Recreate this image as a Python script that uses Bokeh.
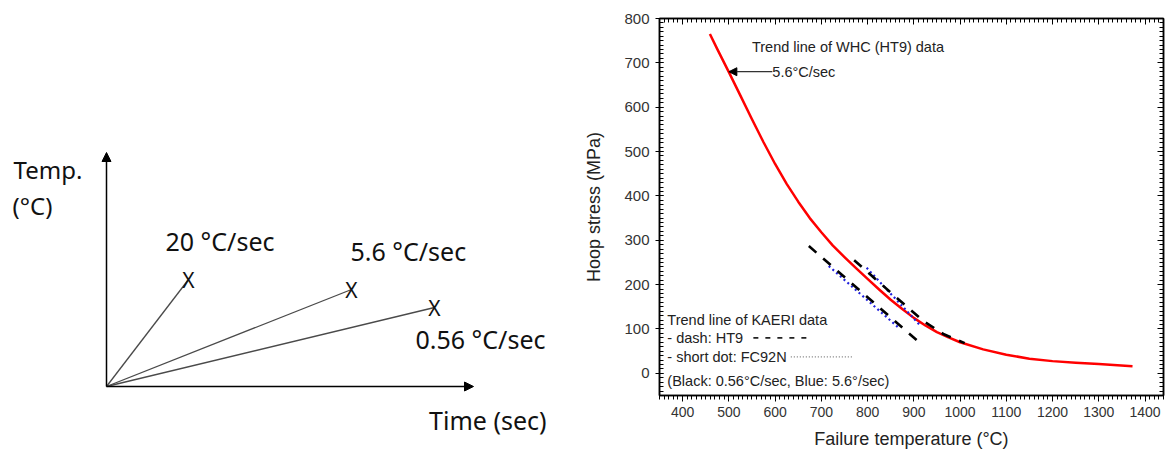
from bokeh.plotting import figure
from bokeh.layouts import row
from bokeh.models import (Range1d, LinearAxis, SingleIntervalTicker, Arrow,
                          NormalHead, Title, CustomJSTickFormatter)
from bokeh.core.properties import value
from bokeh.embed import file_html
from bokeh.resources import INLINE

# ---------------- Left schematic data ----------------
rate_labels = ["20 °C/sec", "5.6 °C/sec", "0.56 °C/sec"]
end_time = [82, 245, 328]          # schematic time of failure point
end_temp = [107, 97, 79]           # schematic temperature of failure point
rate_label_t = [59, 244, 309]      # label anchor (time units)
rate_label_T = [146, 136, 48]      # label anchor (temp units)
time_axis_len = 367
temp_axis_len = 234

# ---------------- Right chart data ----------------
whc_temp = [459, 475, 500, 525, 550, 575, 600, 625, 650, 675, 700, 725, 750,
            775, 800, 825, 850, 875, 900, 925, 950, 975, 1000, 1050, 1100,
            1150, 1200, 1250, 1300, 1373]
whc_stress = [765, 731, 679, 626, 573, 521, 472, 427, 387, 350, 318, 288, 262,
              237, 213, 189, 166, 145, 125, 108, 93, 81, 70, 54, 42,
              33, 27.5, 24, 21, 16]

ht9_slow_temp = [673, 906]
ht9_slow_stress = [287, 75]
fc92n_fast_temp = [716, 868]
fc92n_fast_stress = [242, 102]
ht9_upper_temp = [771, 860, 922, 965, 1010]
ht9_upper_stress = [255, 173, 117, 88, 68]
fc92n_upper_temp = [798, 912]
fc92n_upper_stress = [238, 110]

x_ticks_interval = 100
y_ticks_interval = 100

FONT_L = "Noto Sans"
FONT_R = "Liberation Sans"

# ================= Left figure =================
p1 = figure(width=580, height=452, x_range=Range1d(-106, 474),
            y_range=Range1d(-9, 368), output_backend="svg",
            toolbar_location=None, x_axis_type=None, y_axis_type=None,
            min_border_left=0, min_border_right=0,
            min_border_top=18, min_border_bottom=57)
p1.outline_line_color = None
p1.grid.visible = False

for t, T in zip(end_time, end_temp):
    p1.line([0, t], [0, T], line_color="#4a4a4a", line_width=1.3)

p1.text(x=end_time, y=end_temp, text=["X"] * 3, text_font=value(FONT_L),
        text_font_size="21px", text_align="center", text_baseline="middle",
        text_color="#111111")

p1.add_layout(Arrow(x_start=0, y_start=0, x_end=time_axis_len, y_end=0,
                    line_color="black", line_width=1.5,
                    end=NormalHead(size=9, fill_color="black", line_color="black")))
p1.add_layout(Arrow(x_start=0, y_start=0, x_end=0, y_end=temp_axis_len,
                    line_color="black", line_width=1.5,
                    end=NormalHead(size=9, fill_color="black", line_color="black")))

p1.text(x=rate_label_t, y=rate_label_T, text=rate_labels, text_font=value(FONT_L),
        text_font_size="25px", text_align="left", text_baseline="middle",
        text_color="#111111")
p1.text(x=[-93, -94], y=[217, 181], text=["Temp.", "(°C)"],
        text_font=value(FONT_L), text_font_size="24px", text_align="left",
        text_baseline="middle", text_color="#111111")
p1.add_layout(Title(text="Time (sec)", align="right", offset=34, standoff=11,
                    text_font=FONT_L, text_font_size="25px",
                    text_font_style="normal", text_color="#111111"), "below")

# ================= Right figure =================
p2 = figure(width=587, height=452, x_range=Range1d(350, 1440),
            y_range=Range1d(-50, 800), output_backend="svg",
            toolbar_location=None, min_border_left=79, min_border_right=4,
            min_border_top=18, min_border_bottom=57,
            x_axis_label="Failure temperature (°C)",
            y_axis_label="Hoop stress (MPa)")
p2.grid.visible = False
p2.outline_line_color = "black"
p2.outline_line_width = 1.5

p2.xaxis.ticker = SingleIntervalTicker(interval=x_ticks_interval, num_minor_ticks=10)
p2.yaxis.ticker = SingleIntervalTicker(interval=y_ticks_interval, num_minor_ticks=10)

for ax in (p2.xaxis[0], p2.yaxis[0]):
    ax.axis_line_width = 1.5
    ax.axis_line_color = "black"
    ax.major_tick_line_color = "black"
    ax.minor_tick_line_color = "black"
    ax.major_label_text_font = FONT_R
    ax.major_label_text_color = "#333333"
    ax.axis_label_text_font = FONT_R
    ax.axis_label_text_font_style = "normal"
    ax.axis_label_text_font_size = "18px"
    ax.axis_label_text_color = "#222222"

p2.xaxis.major_tick_out = 6
p2.xaxis.major_tick_in = 0
p2.xaxis.minor_tick_out = 4
p2.xaxis.minor_tick_in = 0
p2.xaxis.major_label_standoff = 5
p2.xaxis.major_label_text_font_size = "14px"
p2.xaxis.axis_label_standoff = 9

p2.yaxis.major_tick_out = 4
p2.yaxis.major_tick_in = 4
p2.yaxis.minor_tick_out = 0
p2.yaxis.minor_tick_in = 4
p2.yaxis.major_label_standoff = 6
p2.yaxis.major_label_text_font_size = "15px"
p2.yaxis.axis_label_standoff = 17

blank = CustomJSTickFormatter(code="return ''")
top_ax = LinearAxis(ticker=SingleIntervalTicker(interval=x_ticks_interval, num_minor_ticks=10),
                    formatter=blank, major_label_standoff=0, major_label_text_font_size="8px",
                    major_tick_in=6, major_tick_out=0, minor_tick_in=4, minor_tick_out=0,
                    axis_line_width=1.5)
right_ax = LinearAxis(ticker=SingleIntervalTicker(interval=y_ticks_interval, num_minor_ticks=10),
                      formatter=blank, major_label_standoff=0, major_label_text_font_size="8px",
                      major_tick_in=6, major_tick_out=0, minor_tick_in=4, minor_tick_out=0,
                      axis_line_width=1.5)
p2.add_layout(top_ax, "above")
p2.add_layout(right_ax, "right")

# WHC trend line (red)
p2.line(whc_temp, whc_stress, line_color="#ff0000", line_width=2.5, line_join="round")

# KAERI trend lines: blue short dot, black dash
p2.line(fc92n_fast_temp, fc92n_fast_stress, line_color="#2020dd", line_width=2.2,
        line_dash="2 3")
p2.line(fc92n_upper_temp, fc92n_upper_stress, line_color="#2020dd", line_width=2.2,
        line_dash="2 3")
p2.line(ht9_slow_temp, ht9_slow_stress, line_color="black", line_width=2.6,
        line_dash="10 9")
p2.line(ht9_upper_temp, ht9_upper_stress, line_color="black", line_width=2.6,
        line_dash="10 9")

# Annotations
p2.text(x=[550], y=[735], text=["Trend line of WHC (HT9) data"],
        text_font=value(FONT_R), text_font_size="14.5px", text_align="left",
        text_baseline="middle", text_color="#222222")
p2.text(x=[594], y=[680], text=["5.6°C/sec"],
        text_font=value(FONT_R), text_font_size="14.5px", text_align="left",
        text_baseline="middle", text_color="#222222")
p2.add_layout(Arrow(x_start=594, y_start=680, x_end=500, y_end=680,
                    line_color="#333333", line_width=1.2,
                    end=NormalHead(size=8, fill_color="black", line_color="black")))

legend_lines = ["Trend line of KAERI data", "- dash: HT9", "- short dot: FC92N",
                "(Black: 0.56°C/sec, Blue: 5.6°/sec)"]
p2.text(x=[367] * 4, y=[121, 80, 37, -18], text=legend_lines,
        text_font=value(FONT_R), text_font_size="14.5px", text_align="left",
        text_baseline="middle", text_color="#222222")
p2.line([553, 673], [80, 80], line_color="#222222", line_width=1.8, line_dash="5 7")
p2.line([634, 768], [37, 37], line_color="#555555", line_width=1, line_dash="1 2")

layout = row(p1, p2)
open("out.html", "w").write(file_html(layout, INLINE))
